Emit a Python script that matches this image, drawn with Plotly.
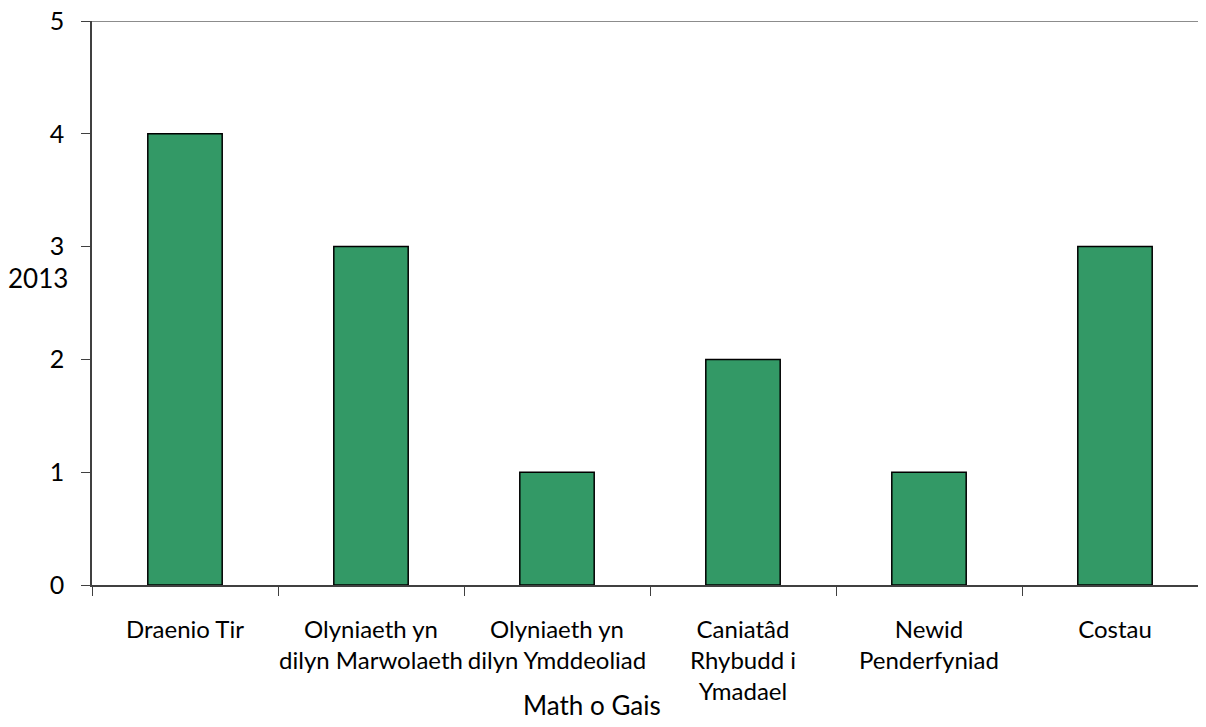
import plotly.graph_objects as go

categories = [
    "Draenio Tir",
    "Olyniaeth yn<br>dilyn Marwolaeth",
    "Olyniaeth yn<br>dilyn Ymddeoliad",
    "Caniatâd<br>Rhybudd i<br>Ymadael",
    "Newid<br>Penderfyniad",
    "Costau",
]
values_2013 = [4, 3, 1, 2, 1, 3]
y_ticks = [0, 1, 2, 3, 4, 5]
x_title = "Math o Gais"
y_title = "2013"

FONT = "Lato"
FS = 26
FSX = 24
FSY = 25

L, R, T, B = 84, 6, 13, 150
PW = 1206 - L - R
PH = 727 - T - B

fig = go.Figure()
fig.add_trace(go.Bar(
    x=categories,
    y=values_2013,
    marker=dict(color="#339966", line=dict(color="black", width=1.5)),
    showlegend=False,
))

fig.update_layout(
    width=1206, height=727,
    margin=dict(l=L, r=R, t=T, b=B, autoexpand=False),
    plot_bgcolor="white", paper_bgcolor="white",
    bargap=0.6,
    font=dict(family=FONT, size=FS, color="black"),
    xaxis=dict(
        type="category", automargin=False,
        showline=True, linecolor="#404040", linewidth=1.5,
        ticks="outside", tickson="boundaries", ticklen=9, tickcolor="#404040",
        tickfont=dict(family=FONT, size=FSX, color="black"),
        tickangle=0,
        ticklabelstandoff=22,
        ticklabeloverflow="allow",
        showgrid=False, zeroline=False,
    ),
    yaxis=dict(
        range=[0, 5], tickvals=y_ticks, automargin=False,
        showline=True, linecolor="#404040", linewidth=1.5,
        ticks="outside", ticklen=9, tickcolor="#404040",
        tickfont=dict(family=FONT, size=FSY, color="black"),
        ticklabelstandoff=12,
        ticklabeloverflow="allow",
        showgrid=False, zeroline=False,
    ),
    shapes=[dict(type="line", xref="paper", yref="y", x0=0, x1=1, y0=5, y1=5,
                 line=dict(color="#8c8c8c", width=2))],
    annotations=[
        dict(text=x_title, xref="paper", yref="paper", x=(584 - L) / PW, y=-(697 - 577) / PH,
             xanchor="center", yanchor="middle", showarrow=False,
             font=dict(family=FONT, size=FS, color="black")),
        dict(text=y_title, xref="paper", yref="paper", x=-(L - 30) / PW, y=(577 - 270) / PH,
             xanchor="center", yanchor="middle", showarrow=False,
             font=dict(family=FONT, size=FS, color="black")),
    ],
)

fig.write_html("out.html")
